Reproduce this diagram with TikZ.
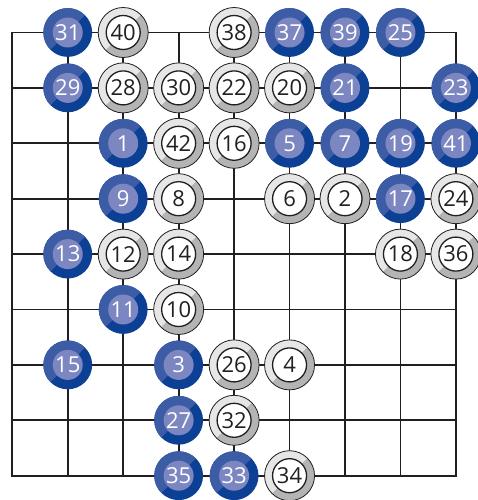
\documentclass[tikz,border=0pt]{standalone}
\usepackage{fontspec}
\setmainfont{Open Sans}
\definecolor{bdark}{RGB}{12,64,148}
\definecolor{blight}{RGB}{60,92,166}
\definecolor{binner}{RGB}{124,135,194}
\definecolor{wlight}{RGB}{230,230,230}
\definecolor{wdark}{RGB}{180,180,182}
\definecolor{gridc}{RGB}{35,31,32}
\tikzset{
  gridline/.style={draw=gridc, line width=1.8pt},
  numtext/.style={font=\fontsize{22}{22}\selectfont, inner sep=0pt},
}
\begin{document}
\begin{tikzpicture}[x=55.45pt, y=55.4pt]
\useasboundingbox (-12.3pt,32.5pt) rectangle (464.7pt,-467.5pt);
\coordinate (tl) at (0,0);
\coordinate (br) at (8,-8);
\foreach \k in {1,...,7}{
  \coordinate (vt\k) at (\k,0);
  \coordinate (vb\k) at (\k,-8);
  \coordinate (hl\k) at (0,-\k);
  \coordinate (hr\k) at (8,-\k);
  \draw[gridline] (vt\k) -- (vb\k);
  \draw[gridline] (hl\k) -- (hr\k);
}
\draw[gridline] (tl) rectangle (br);
% blue stones
\foreach \n/\i/\j in {31/1/0,37/5/0,39/6/0,25/7/0,
  29/1/1,21/6/1,23/8/1,
  1/2/2,5/5/2,7/6/2,19/7/2,41/8/2,
  9/2/3,17/7/3,
  13/1/4,11/2/5,
  15/1/6,3/3/6,27/3/7,35/3/8,33/4/8}{
  \coordinate (c\n) at (\i,-\j);
  \fill[bdark] (c\n) circle (24.4pt);
  \fill[blight] (c\n) ++(45:24.4pt) arc[start angle=45, end angle=225, radius=24.4pt] -- cycle;
  \fill[binner] (c\n) circle (15pt);
  \node[numtext, text=white] (s\n) at (c\n) {\n};
}
% white stones
\foreach \n/\i/\j in {40/2/0,38/4/0,
  28/2/1,30/3/1,22/4/1,20/5/1,
  42/3/2,16/4/2,
  8/3/3,6/5/3,2/6/3,24/8/3,
  12/2/4,14/3/4,18/7/4,36/8/4,
  10/3/5,26/4/6,4/5/6,32/4/7,34/5/8}{
  \coordinate (c\n) at (\i,-\j);
  \fill[wdark] (c\n) circle (25pt);
  \fill[wlight] (c\n) ++(45:25pt) arc[start angle=45, end angle=225, radius=25pt] -- cycle;
  \draw[gridc, line width=0.8pt] (c\n) circle (25pt);
  \filldraw[fill=white, draw=gridc, line width=1.3pt] (c\n) circle (17pt);
  \node[numtext, text=gridc] (s\n) at (c\n) {\n};
}
\end{tikzpicture}
\end{document}
